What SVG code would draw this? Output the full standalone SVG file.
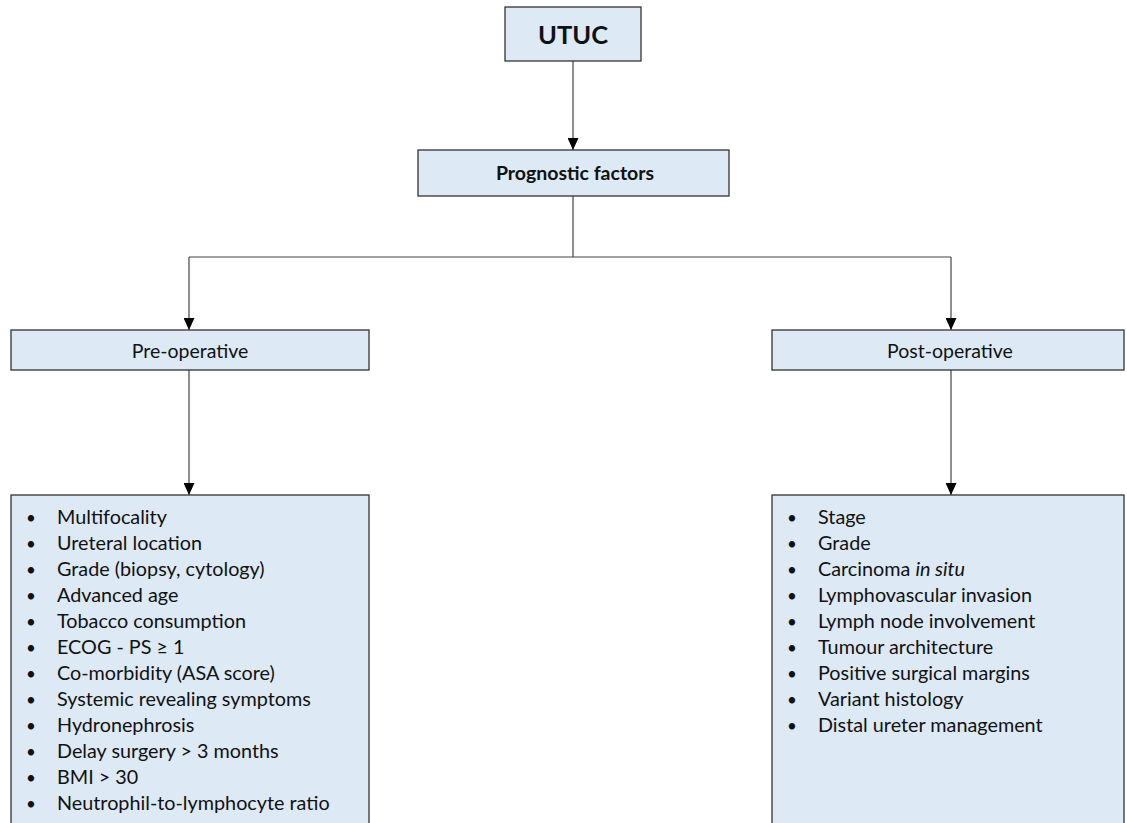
<svg xmlns="http://www.w3.org/2000/svg" width="1127" height="823" viewBox="0 0 1127 823">
  <style>
    .box { fill: #dde9f5; stroke: #333; stroke-width: 1.3; }
    .conn { fill: none; stroke: #444; stroke-width: 1.2; }
    .t { font-family: Lato, "Open Sans", sans-serif; fill: #111; }
    .list { font-size: 19.8px; }
    .bul { font-size: 17px; }
  </style>
  <defs>
    <marker id="arrow" markerWidth="12" markerHeight="11" refX="12" refY="5.5" orient="auto" markerUnits="userSpaceOnUse">
      <path d="M0,0 L12,5.5 L0,11 Z" fill="#000"/>
    </marker>
  </defs>
  <rect width="1127" height="823" fill="#fff"/>

  <g id="connectors">
    <path class="conn" d="M573,61 V150" marker-end="url(#arrow)"/>
    <path class="conn" d="M573,196 V257 M189,257 H951"/>
    <path class="conn" d="M189,257 V330" marker-end="url(#arrow)"/>
    <path class="conn" d="M951,257 V330" marker-end="url(#arrow)"/>
    <path class="conn" d="M189,370 V495" marker-end="url(#arrow)"/>
    <path class="conn" d="M951,370 V495" marker-end="url(#arrow)"/>
  </g>

  <g id="utuc">
    <rect class="box" x="505" y="7" width="136" height="54"/>
    <text class="t" x="573" y="44" font-size="25.5" font-weight="bold" text-anchor="middle">UTUC</text>
  </g>

  <g id="prognostic-factors">
    <rect class="box" x="418" y="150" width="311" height="46"/>
    <text class="t" x="575" y="180" font-size="19.5" font-weight="bold" text-anchor="middle">Prognostic factors</text>
  </g>

  <g id="pre-operative">
    <rect class="box" x="11" y="330" width="358" height="40"/>
    <text class="t" x="190" y="358" font-size="19.5" text-anchor="middle">Pre-operative</text>
  </g>

  <g id="post-operative">
    <rect class="box" x="772" y="330" width="352" height="40"/>
    <text class="t" x="950" y="358" font-size="19.5" text-anchor="middle">Post-operative</text>
  </g>

  <g id="pre-operative-factors">
    <rect class="box" x="11" y="495" width="358" height="340"/>
    <g class="t list">
      <text class="bul" x="26" y="524">•</text><text x="57" y="524">Multifocality</text>
      <text class="bul" x="26" y="550">•</text><text x="57" y="550">Ureteral location</text>
      <text class="bul" x="26" y="576">•</text><text x="57" y="576">Grade (biopsy, cytology)</text>
      <text class="bul" x="26" y="602">•</text><text x="57" y="602">Advanced age</text>
      <text class="bul" x="26" y="628">•</text><text x="57" y="628">Tobacco consumption</text>
      <text class="bul" x="26" y="654">•</text><text x="57" y="654">ECOG - PS ≥ 1</text>
      <text class="bul" x="26" y="680">•</text><text x="57" y="680">Co-morbidity (ASA score)</text>
      <text class="bul" x="26" y="706">•</text><text x="57" y="706">Systemic revealing symptoms</text>
      <text class="bul" x="26" y="732">•</text><text x="57" y="732">Hydronephrosis</text>
      <text class="bul" x="26" y="758">•</text><text x="57" y="758">Delay surgery &gt; 3 months</text>
      <text class="bul" x="26" y="784">•</text><text x="57" y="784">BMI &gt; 30</text>
      <text class="bul" x="26" y="810">•</text><text x="57" y="810">Neutrophil-to-lymphocyte ratio</text>
    </g>
  </g>

  <g id="post-operative-factors">
    <rect class="box" x="772" y="495" width="352" height="340"/>
    <g class="t list">
      <text class="bul" x="787" y="524">•</text><text x="818" y="524">Stage</text>
      <text class="bul" x="787" y="550">•</text><text x="818" y="550">Grade</text>
      <text class="bul" x="787" y="576">•</text><text x="818" y="576">Carcinoma <tspan font-style="italic">in situ</tspan></text>
      <text class="bul" x="787" y="602">•</text><text x="818" y="602">Lymphovascular invasion</text>
      <text class="bul" x="787" y="628">•</text><text x="818" y="628">Lymph node involvement</text>
      <text class="bul" x="787" y="654">•</text><text x="818" y="654">Tumour architecture</text>
      <text class="bul" x="787" y="680">•</text><text x="818" y="680">Positive surgical margins</text>
      <text class="bul" x="787" y="706">•</text><text x="818" y="706">Variant histology</text>
      <text class="bul" x="787" y="732">•</text><text x="818" y="732">Distal ureter management</text>
    </g>
  </g>
</svg>
